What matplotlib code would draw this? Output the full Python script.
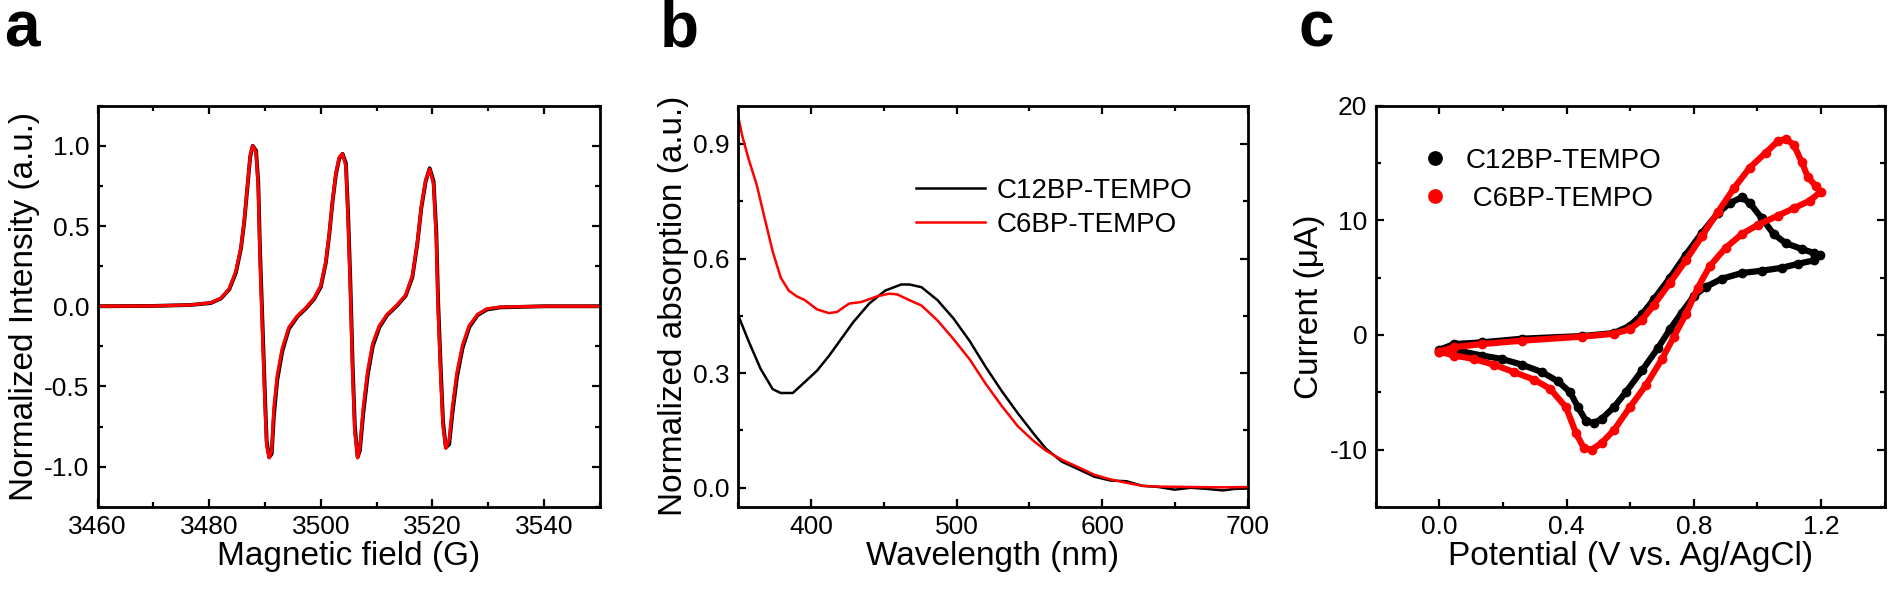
import matplotlib
matplotlib.use("Agg")
import matplotlib.pyplot as plt
from matplotlib.ticker import MultipleLocator, FormatStrFormatter

plt.rcParams['font.family'] = ['Liberation Sans', 'DejaVu Sans']
plt.rcParams['axes.unicode_minus'] = False

# ---- panel a: EPR spectra ----
epr_field = [3460, 3470, 3476.7, 3480.3, 3482.1, 3483.6, 3484.8, 3485.7, 3486.3, 3486.9,
             3487.35, 3487.8, 3488.4, 3488.8, 3489.1, 3489.6, 3490.0, 3490.3, 3490.75, 3491.2,
             3491.6, 3492.2, 3493.1, 3494.3, 3495.8, 3497.3, 3498.8, 3500.0, 3500.9, 3501.5,
             3502.1, 3502.7, 3503.3, 3503.9, 3504.5, 3504.9, 3505.3, 3505.7, 3506.1, 3506.6,
             3507.0, 3507.6, 3508.4, 3509.3, 3510.5, 3511.9, 3513.7, 3515.2, 3516.4, 3517.3,
             3518.0, 3518.8, 3519.5, 3520.2, 3520.7, 3521.0, 3521.5, 3521.9, 3522.4, 3523.0,
             3523.6, 3524.4, 3525.4, 3526.6, 3528.1, 3529.8, 3532.2, 3540, 3550]
epr_c12 = [0.0, 0.002, 0.008, 0.02, 0.048, 0.105, 0.21, 0.36, 0.53, 0.76,
           0.93, 1.0, 0.97, 0.77, 0.36, -0.15, -0.56, -0.84, -0.94, -0.92,
           -0.68, -0.46, -0.28, -0.14, -0.065, -0.015, 0.045, 0.12, 0.27, 0.44,
           0.65, 0.82, 0.92, 0.95, 0.89, 0.57, 0.15, -0.36, -0.75, -0.94,
           -0.90, -0.67, -0.43, -0.25, -0.13, -0.055, 0.005, 0.065, 0.18, 0.39,
           0.61, 0.78, 0.86, 0.78, 0.46, 0.05, -0.40, -0.72, -0.88, -0.86,
           -0.66, -0.44, -0.26, -0.13, -0.055, -0.02, -0.007, 0.0, 0.0]
epr_c6 = [0.0, 0.002, 0.008, 0.022, 0.05, 0.11, 0.22, 0.37, 0.54, 0.77,
          0.94, 1.0, 0.96, 0.73, 0.30, -0.22, -0.62, -0.87, -0.945, -0.90,
          -0.63, -0.43, -0.26, -0.13, -0.06, -0.01, 0.05, 0.13, 0.28, 0.45,
          0.66, 0.83, 0.93, 0.95, 0.87, 0.52, 0.09, -0.42, -0.79, -0.945,
          -0.88, -0.63, -0.40, -0.23, -0.12, -0.05, 0.01, 0.07, 0.19, 0.40,
          0.62, 0.79, 0.855, 0.76, 0.41, -0.01, -0.46, -0.75, -0.885, -0.83,
          -0.62, -0.41, -0.24, -0.12, -0.05, -0.015, -0.005, 0.0, 0.0]

# ---- panel b: UV-vis absorption ----
wl_c12 = [349, 357.2, 365.5, 373.8, 379.3, 387.6, 395.9, 404.1, 412.4, 420.7,
          429, 440, 451, 462, 467.6, 475.9, 486.9, 497.9, 509, 520,
          531, 542, 553, 561.4, 572.4, 583.4, 594.5, 605.5, 616.6, 627.6,
          638.6, 649.7, 660.7, 671.7, 682.8, 691, 700]
abs_c12 = [0.462, 0.384, 0.311, 0.258, 0.248, 0.248, 0.277, 0.306, 0.345, 0.389,
           0.433, 0.482, 0.516, 0.532, 0.532, 0.525, 0.491, 0.443, 0.384, 0.316,
           0.253, 0.195, 0.141, 0.102, 0.068, 0.049, 0.029, 0.019, 0.017, 0.005,
           0.002, -0.005, 0.0, -0.003, -0.007, -0.003, -0.002]
wl_c6 = [349.5, 353, 357.2, 362.8, 368.3, 373.8, 379.3, 384.8, 390.3, 395.9,
         404.1, 412.4, 417.9, 426.2, 434.5, 445.5, 453.8, 459.3, 467.6, 475.9,
         486.9, 497.9, 509, 520, 531, 542, 553, 561.4, 572.4, 583.4,
         594.5, 605.5, 616.6, 627.6, 638.6, 660.7, 682.8, 700]
abs_c6 = [0.983, 0.919, 0.861, 0.793, 0.705, 0.618, 0.55, 0.516, 0.501, 0.491,
          0.467, 0.457, 0.460, 0.482, 0.486, 0.501, 0.508, 0.506, 0.491, 0.477,
          0.438, 0.389, 0.336, 0.272, 0.214, 0.161, 0.122, 0.097, 0.073, 0.054,
          0.034, 0.022, 0.013, 0.005, 0.003, 0.002, 0.001, 0.002]

# ---- panel c: cyclic voltammetry ----
cv_v_c12 = [0.0, 0.046, 0.134, 0.26, 0.448, 0.549, 0.599, 0.637, 0.674, 0.725,
            0.775, 0.825, 0.875, 0.913, 0.951, 0.976, 1.013, 1.051, 1.089, 1.139,
            1.177, 1.196, 1.177, 1.127, 1.076, 1.013, 0.951, 0.888, 0.838, 0.8,
            0.762, 0.725, 0.687, 0.637, 0.586, 0.549, 0.511, 0.486, 0.461, 0.436,
            0.411, 0.373, 0.323, 0.26, 0.197, 0.134, 0.072, 0.009]
cv_i_c12 = [-1.3, -0.8, -0.65, -0.33, -0.1, 0.16, 0.8, 1.8, 3.1, 5.0,
            7.0, 8.9, 10.6, 11.5, 12.0, 11.5, 10.2, 8.8, 8.0, 7.5,
            7.15, 7.0, 6.5, 6.2, 5.85, 5.6, 5.4, 4.9, 4.2, 3.4,
            1.95, 0.5, -1.15, -3.1, -5.0, -6.3, -7.3, -7.7, -7.5, -6.3,
            -5.0, -4.05, -3.25, -2.6, -2.1, -1.8, -1.45, -1.3]
cv_v_c6 = [0.0, 0.046, 0.134, 0.26, 0.448, 0.549, 0.599, 0.637, 0.674, 0.725,
           0.775, 0.825, 0.875, 0.926, 0.976, 1.026, 1.064, 1.089, 1.114, 1.139,
           1.158, 1.183, 1.199, 1.164, 1.114, 1.064, 1.001, 0.951, 0.9, 0.85,
           0.812, 0.775, 0.737, 0.7, 0.649, 0.599, 0.549, 0.511, 0.48, 0.455,
           0.43, 0.398, 0.348, 0.298, 0.235, 0.172, 0.109, 0.046, 0.0]
cv_i_c6 = [-1.45, -1.07, -0.8, -0.5, -0.15, 0.1, 0.5, 1.3, 2.6, 4.55,
           6.5, 8.6, 10.7, 12.8, 14.6, 15.9, 16.9, 17.1, 16.6, 15.1,
           13.8, 13.0, 12.5, 11.7, 11.05, 10.4, 9.6, 8.8, 7.6, 6.0,
           4.1, 1.8, -0.16, -2.1, -4.4, -6.3, -8.3, -9.4, -10.0, -9.9,
           -8.6, -6.3, -4.7, -3.9, -3.25, -2.6, -2.1, -1.8, -1.45]

TICK_FS = 19
LABEL_FS = 24


def style_axes(ax):
    for sp in ax.spines.values():
        sp.set_linewidth(2)
    ax.tick_params(which='both', direction='in', top=True, right=True,
                   labelsize=TICK_FS, width=1.6, pad=6)
    ax.tick_params(which='major', length=6)
    ax.tick_params(which='minor', length=3.5)


fig = plt.figure(figsize=(18.9, 5.97), dpi=100)

# a
ax1 = fig.add_axes([0.0516, 0.151, 0.2658, 0.672])
ax1.plot(epr_field, epr_c12, color='black', lw=2.8)
ax1.plot(epr_field, epr_c6, color='red', lw=2.3)
ax1.set_xlim(3460, 3550)
ax1.set_ylim(-1.25, 1.25)
ax1.xaxis.set_major_locator(MultipleLocator(20))
ax1.xaxis.set_minor_locator(MultipleLocator(10))
ax1.yaxis.set_major_locator(MultipleLocator(0.5))
ax1.yaxis.set_minor_locator(MultipleLocator(0.25))
ax1.yaxis.set_major_formatter(FormatStrFormatter('%.1f'))
ax1.set_xlabel('Magnetic field (G)', fontsize=LABEL_FS, labelpad=1)
ax1.set_ylabel('Normalized Intensity (a.u.)', fontsize=LABEL_FS, labelpad=3)
style_axes(ax1)

# b
ax2 = fig.add_axes([0.3905, 0.151, 0.2698, 0.672])
ax2.plot(wl_c12, abs_c12, color='black', lw=1.8, label='C12BP-TEMPO')
ax2.plot(wl_c6, abs_c6, color='red', lw=1.8, label='C6BP-TEMPO')
ax2.set_xlim(350, 700)
ax2.set_ylim(-0.05, 1.0)
ax2.xaxis.set_major_locator(MultipleLocator(100))
ax2.xaxis.set_minor_locator(MultipleLocator(50))
ax2.yaxis.set_major_locator(MultipleLocator(0.3))
ax2.yaxis.set_minor_locator(MultipleLocator(0.15))
ax2.yaxis.set_major_formatter(FormatStrFormatter('%.1f'))
ax2.set_xlabel('Wavelength (nm)', fontsize=LABEL_FS, labelpad=1)
ax2.set_ylabel('Normalized absorption (a.u.)', fontsize=LABEL_FS, labelpad=3)
ax2.legend(loc='center left', bbox_to_anchor=(0.30, 0.745), frameon=False,
           fontsize=20, handlelength=2.5, handletextpad=0.4, labelspacing=0.3)
style_axes(ax2)

# c
ax3 = fig.add_axes([0.7279, 0.151, 0.2693, 0.672])
ax3.plot(cv_v_c12, cv_i_c12, color='black', lw=4.5, marker='o', ms=6,
         label='C12BP-TEMPO')
ax3.plot(cv_v_c6, cv_i_c6, color='red', lw=4.5, marker='o', ms=6,
         label=' C6BP-TEMPO')
ax3.set_xlim(-0.2, 1.4)
ax3.set_ylim(-15, 20)
ax3.set_xticks([0.0, 0.4, 0.8, 1.2])
ax3.xaxis.set_minor_locator(MultipleLocator(0.2))
ax3.yaxis.set_major_locator(MultipleLocator(10))
ax3.yaxis.set_minor_locator(MultipleLocator(5))
ax3.xaxis.set_major_formatter(FormatStrFormatter('%.1f'))
ax3.set_xlabel('Potential (V vs. Ag/AgCl)', fontsize=LABEL_FS, labelpad=1)
ax3.set_ylabel('Current (\u03bcA)', fontsize=LABEL_FS, labelpad=3)
ax3.legend(loc='center left', bbox_to_anchor=(0.045, 0.815), frameon=False,
           fontsize=20, handlelength=0.8, handletextpad=0.7, labelspacing=0.45,
           markerscale=1.6)
leg = ax3.get_legend()
for h in leg.legend_handles:
    h.set_linestyle('none')
style_axes(ax3)

for x, s in [(0.002, 'a'), (0.349, 'b'), (0.687, 'c')]:
    fig.text(x, 0.922, s, fontsize=46, fontweight='bold', va='baseline')

fig.savefig('out.png', dpi=100)
